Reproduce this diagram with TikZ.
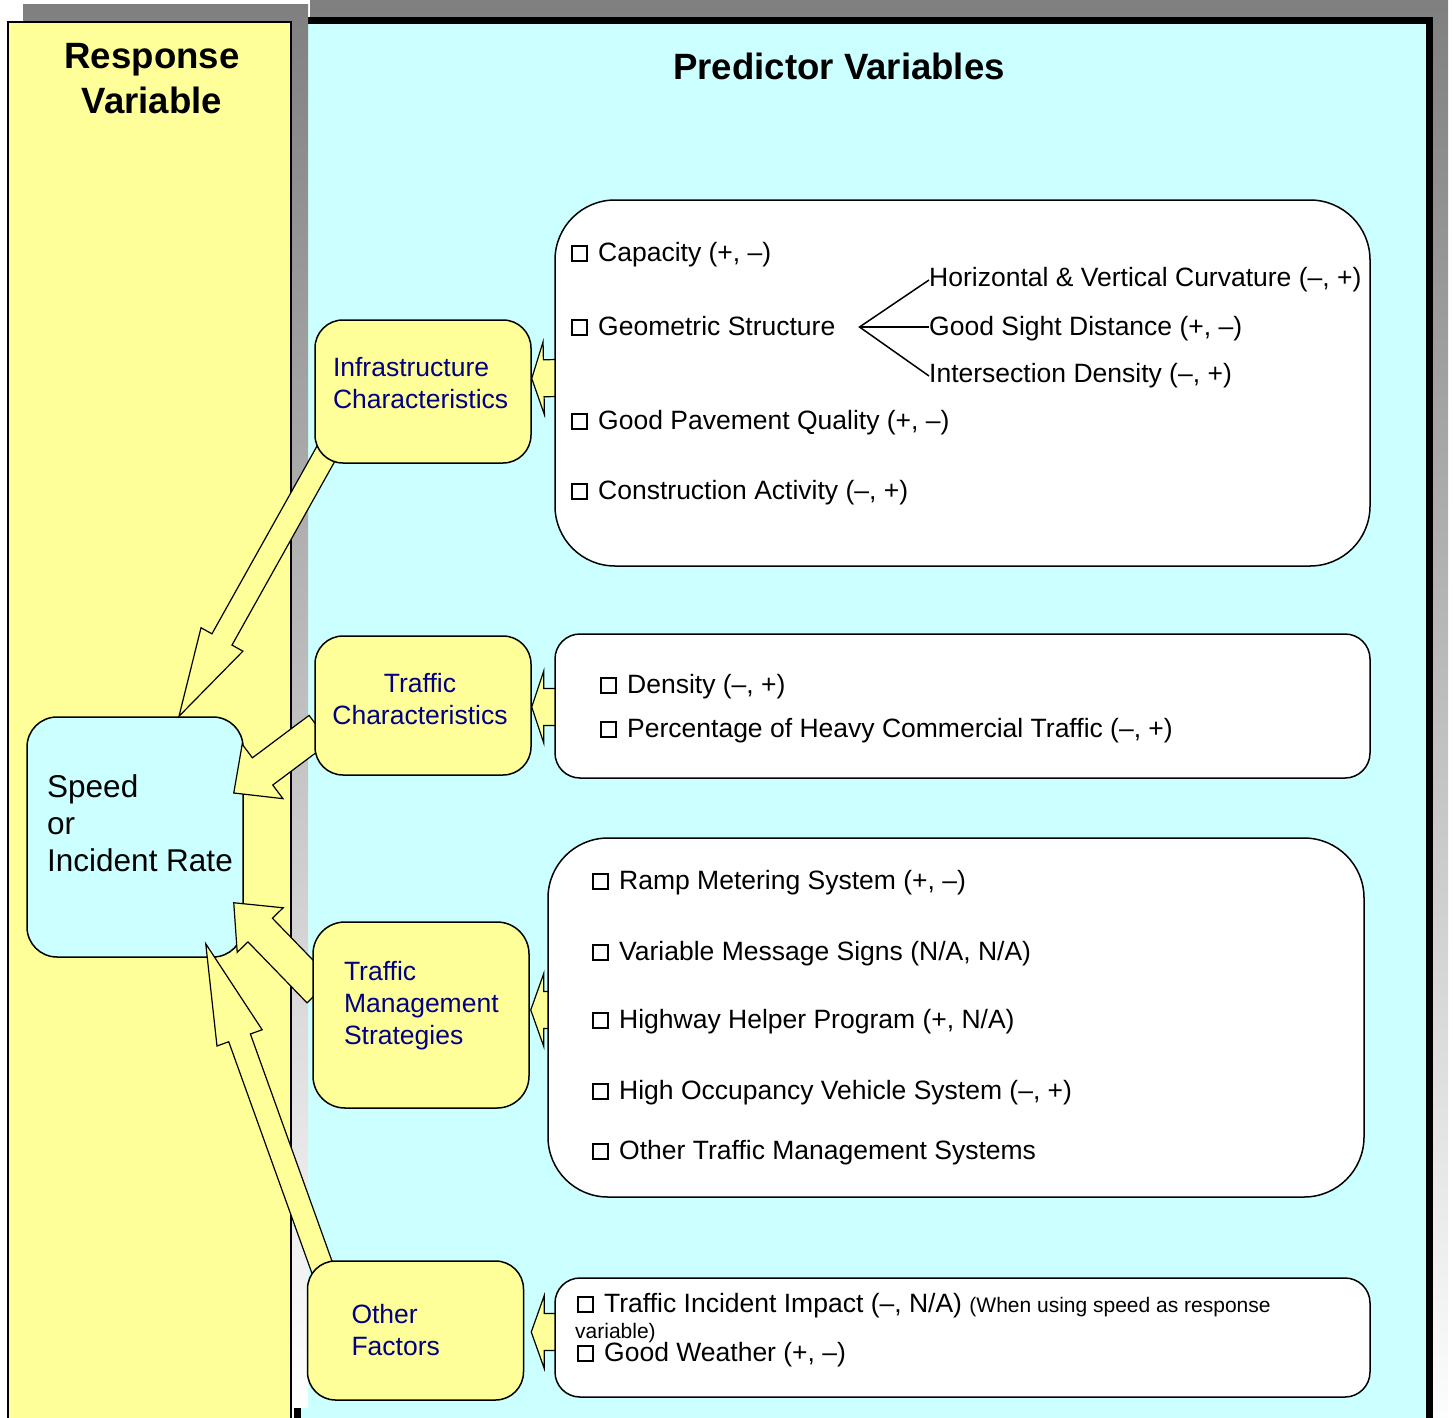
\documentclass[tikz,border=0pt]{standalone}
\usepackage{fontspec}
\setmainfont{Liberation Sans}
\usetikzlibrary{calc}
\definecolor{pale}{HTML}{FFFF99}
\definecolor{aqua}{HTML}{CCFFFF}
\definecolor{navy}{HTML}{000080}
\definecolor{shade}{HTML}{808080}
\pgfdeclarelayer{back}
\pgfdeclarelayer{mid}
\pgfsetlayers{back,mid,main}
\tikzset{
  factor/.style={draw, fill=pale, line width=1.5pt, rounded corners=28pt, minimum width=216pt, inner sep=0pt, font=\fontsize{26.5}{32}\selectfont, text=navy},
  listbox/.style={draw, fill=white, line width=1.5pt, minimum width=815pt, inner sep=0pt},
  item/.style={anchor=west, inner sep=0pt, text height=19pt, text depth=6pt, font=\fontsize{26.5}{32}\selectfont},
  small/.style={anchor=west, inner sep=0pt, font=\fontsize{21}{25}\selectfont},
  fat/.style={draw, fill=pale, line width=1.2pt, line join=miter},
  heading/.style={font=\fontsize{36.6}{45}\selectfont\bfseries, align=center},
  fork/.style={line width=1.5pt},
}
\newcommand{\cb}{\raisebox{2pt}{\setlength{\fboxsep}{0pt}\setlength{\fboxrule}{2pt}\fbox{\rule{0pt}{13pt}\hspace{13pt}}}\hspace{10pt}}
\newcommand{\fatarrow}[5]{%
  \coordinate (fa-tail) at #1;
  \coordinate (fa-tip) at #2;
  \coordinate (fa-base) at ($(fa-tip)!#5!(fa-tail)$);
  \draw[fat] ($(fa-tail)!#3!90:(fa-tip)$) -- ($(fa-base)!#3!90:(fa-tip)$)
    -- ($(fa-base)!#4!90:(fa-tip)$) -- (fa-tip)
    -- ($(fa-base)!#4!-90:(fa-tip)$) -- ($(fa-base)!#3!-90:(fa-tip)$)
    -- ($(fa-tail)!#3!-90:(fa-tip)$) -- cycle;}

\begin{document}
\begin{tikzpicture}[x=1pt,y=-1pt]
  \useasboundingbox (0,0) rectangle (1453,1418);
  \begin{pgfonlayer}{back}
    % panels
    \fill[shade] (310,1) rectangle (1448,1440);
    \draw[fill=aqua, line width=7pt] (297,20.5) rectangle (1429.5,1440);
    \fill[shade] (23,5) rectangle (308,1407);
    \draw[fill=pale, line width=1.5pt] (8,22) rectangle (291,1440);
    \node[draw, fill=aqua, line width=1.5pt, rounded corners=30pt, minimum width=216pt, minimum height=240pt] (speed) at (135,837) {};
  \end{pgfonlayer}

  \node[heading] (resp) at (152,79) {Response\\Variable};
  \node[heading] (pred) at (839,66) {Predictor Variables};
  \node[anchor=west, inner sep=0pt, align=left, font=\fontsize{31.5}{37}\selectfont] (speedtxt) at (47,823) {Speed\\or\\Incident Rate};

  \node[factor, minimum height=143pt, text width=180pt, text depth=50pt, align=left] (infra) at (423,391.5) {Infrastructure\\Characteristics};
  \node[factor, minimum height=139pt, text width=180pt, text depth=46pt, align=center] (traffic) at (423,705.5) {\hspace{-6pt}Traffic\\\hspace{-6pt}Characteristics};
  \node[factor, minimum height=186pt, text width=154pt, text depth=88pt, align=left, rounded corners=32pt] (tms) at (421,1015) {Traffic\\Management\\Strategies};
  \node[factor, minimum height=139pt, text width=128pt, align=left] (other) at (415.5,1330.5) {Other\\Factors};

  \node[listbox, minimum height=366pt, rounded corners=60pt] (infbox) at (962.5,383) {};
  \node[listbox, minimum height=144pt, rounded corners=25pt] (trafbox) at (962.5,706) {};
  \node[listbox, minimum width=816pt, minimum height=359pt, rounded corners=60pt] (tmsbox) at (956,1017.5) {};
  \node[listbox, minimum height=119pt, rounded corners=25pt] (othbox) at (962.5,1337.5) {};

  \node[item] (cap) at (571,255) {\cb Capacity (+, –)};
  \node[item] (geo) at (571,329) {\cb Geometric Structure};
  \node[item] (pave) at (571,423) {\cb Good Pavement Quality (+, –)};
  \node[item] (cons) at (571,493) {\cb Construction Activity (–, +)};
  \node[item] (horiz) at (929,280) {Horizontal \& Vertical Curvature (–, +)};
  \node[item] (sight) at (929,329) {Good Sight Distance (+, –)};
  \node[item] (inter) at (929,376) {Intersection Density (–, +)};
  \coordinate (split) at ($(geo.east)+(24,-2)$);
  \draw[fork] (horiz.west) -- (split) -- (inter.west);
  \draw[fork] (split) -- (split -| sight.west);

  \node[item] (dens) at (600,687) {\cb Density (–, +)};
  \node[item] (heavy) at (600,731) {\cb Percentage of Heavy Commercial Traffic (–, +)};

  \node[item] (ramp) at (592,883) {\cb Ramp Metering System (+, –)};
  \node[item] (vms) at (592,954) {\cb Variable Message Signs (N/A, N/A)};
  \node[item] (helper) at (592,1022) {\cb Highway Helper Program (+, N/A)};
  \node[item] (hov) at (592,1093) {\cb High Occupancy Vehicle System (–, +)};
  \node[item] (othtms) at (592,1153) {\cb Other Traffic Management Systems};

  \node[item] (incid) at (577,1306) {\cb Traffic Incident Impact (–, N/A) {\fontsize{21}{25}\selectfont (When using speed as response}};
  \node[small] (incid2) at (575,1333) {variable)};
  \node[item] (weather) at (577,1355) {\cb Good Weather (+, –)};

  \begin{pgfonlayer}{mid}
    \fatarrow{($(infra.south west)+(20,-25)$)}{($(speed.north)+(44,0)$)}{11.5pt}{24pt}{88pt}
    \fatarrow{($(other.north west)+(21,23)$)}{($(speed.south east)+(-38,-14)$)}{11.5pt}{24pt}{100pt}
    \fatarrow{($(traffic.west)+(5,23.5)$)}{($(speed.east)+(-10,-44)$)}{17pt}{34pt}{36pt}
    \fatarrow{($(tms.west)+(7,-24)$)}{($(speed.south east)+(-10,-55)$)}{17pt}{32pt}{38pt}
    \fatarrow{($(infbox.west)+(4,-5)$)}{($(infra.east)+(0,-13)$)}{18.5pt}{36.5pt}{12pt}
    \fatarrow{($(trafbox.west)+(4,1)$)}{($(traffic.east)+(0,1.5)$)}{18.5pt}{36pt}{12pt}
    \fatarrow{($(tmsbox.west)+(4,-7.5)$)}{($(tms.east)+(1,-5)$)}{18.5pt}{36.5pt}{13pt}
    \fatarrow{($(othbox.west)+(4,-5.5)$)}{($(other.east)+(7,1.5)$)}{18.5pt}{36.5pt}{13pt}
  \end{pgfonlayer}
\end{tikzpicture}
\end{document}
